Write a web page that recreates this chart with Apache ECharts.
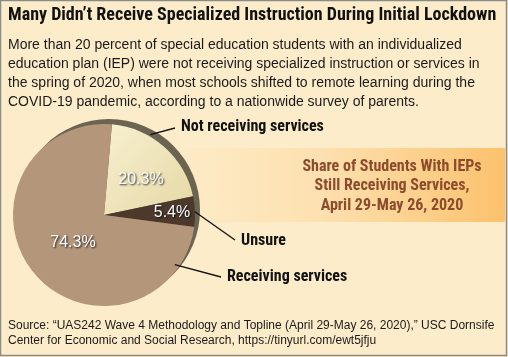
<!DOCTYPE html>
<html><head><meta charset="utf-8">
<script src="https://cdn.jsdelivr.net/npm/echarts@6/dist/echarts.min.js"></script>
<style>html,body{margin:0;padding:0;background:#fdecc9;}#c{width:508px;height:357px;}</style>
</head><body><div id="c"></div>
<script>
const categories = ['Not receiving services', 'Unsure', 'Receiving services'];
const shares = [20.3, 5.4, 74.3];
const sliceColors = ['#efe4bd', '#4c392b', '#b4967a'];
const titleText = 'Many Didn\u2019t Receive Specialized Instruction During Initial Lockdown';
const subtitleLines = [
  'More than 20 percent of special education students with an individualized',
  'education plan (IEP) were not receiving specialized instruction or services in',
  'the spring of 2020, when most schools shifted to remote learning during the',
  'COVID-19 pandemic, according to a nationwide survey of parents.'
];
const bandLines = ['Share of Students With IEPs', 'Still Receiving Services,', 'April 29-May 26, 2020'];
const sourceLines = [
  'Source: \u201cUAS242 Wave 4 Methodology and Topline (April 29-May 26, 2020),\u201d USC Dornsife',
  'Center for Economic and Social Research, https://tinyurl.com/ewt5jfju'
];

const narrow = "'Liberation Sans Narrow','Arial Narrow','Roboto Condensed',sans-serif";
const sans = "'Liberation Sans',Arial,Helvetica,sans-serif";
const chart = echarts.init(document.getElementById('c'), null, {renderer: 'canvas'});

const cx = 104, cy = 215, R = 91, startAngle = 85;
// label placement (annotation layout)
const innerPos = [[141, 180], [172, 213], [73, 243]];
const outerPos = [[181, 127], [241, 241], [227, 277]];
// leader lines: start on the pie at [angle deg, radius factor], end next to the label
const leaderStart = [[60, 1.02], [2, 1.0], [-35, 0.95]];
const leaderEnd = [[175, 128], [235, 240], [221, 277]];

function polar(a, f) {
  const rad = a * Math.PI / 180;
  return [cx + Math.cos(rad) * R * f, cy - Math.sin(rad) * R * f];
}

const data = categories.map((c, i) => ({
  name: c, value: shares[i],
  itemStyle: {color: i === 0 ? new echarts.graphic.LinearGradient(0, 0, 1, 1, [{offset: 0, color: '#f7efcf'}, {offset: 1, color: '#e6d8a5'}]) : sliceColors[i]}
}));

const graphics = [
  {type: 'rect', shape: {x: 0.5, y: 0.5, width: 506, height: 355}, style: {fill: '#fdecc9', stroke: '#8a8a8a', lineWidth: 1.5}, z: -10},
  {type: 'rect', shape: {x: 172, y: 148, width: 333, height: 74},
    style: {fill: new echarts.graphic.LinearGradient(0, 0, 1, 0, [
      {offset: 0, color: 'rgba(252,196,115,0)'},
      {offset: 0.45, color: 'rgba(252,196,115,0.3)'},
      {offset: 1, color: 'rgba(252,193,108,1)'}])}, z: -5},
  {type: 'circle', shape: {cx: cx + 5, cy: cy - 5, r: R}, style: {fill: '#6b6450'}, z: -1},
  {type: 'text', left: 8, top: 6, style: {text: titleText, font: 'bold 18px ' + narrow, fill: '#111'}},
  {type: 'text', left: 8, top: 35, style: {text: subtitleLines.join('\n'), font: '14px ' + sans, lineHeight: 19.3, fill: '#1a1a1a'}},
  {type: 'text', x: 392, y: 157, style: {text: bandLines.join('\n'), font: 'bold 16px ' + narrow, lineHeight: 19.5, fill: '#8c4b2b', align: 'center'}},
  {type: 'text', left: 8, top: 318, style: {text: sourceLines.join('\n'), font: '12px ' + sans, lineHeight: 15, fill: '#1a1a1a'}}
];
leaderStart.forEach((s, i) => {
  const p = polar(s[0], s[1]);
  graphics.push({type: 'line', z: 10, shape: {x1: p[0], y1: p[1], x2: leaderEnd[i][0], y2: leaderEnd[i][1]}, style: {stroke: '#111', lineWidth: 1.3}});
});

chart.setOption({
  backgroundColor: '#fdecc9',
  animation: false,
  graphic: graphics,
  series: [
    {
      type: 'pie', center: [cx, cy], radius: R, startAngle: startAngle, clockwise: true,
      data: data, silent: true, z: 2,
      label: {position: 'inside', formatter: p => p.value.toFixed(1) + '%', color: '#fff',
        fontSize: 16, fontFamily: sans,
        textShadowColor: 'rgba(0,0,0,0.85)', textShadowBlur: 2, textShadowOffsetX: 1, textShadowOffsetY: 1},
      labelLine: {show: false},
      labelLayout: p => ({x: innerPos[p.dataIndex][0], y: innerPos[p.dataIndex][1], align: 'center', verticalAlign: 'middle'})
    },
    {
      type: 'pie', center: [cx, cy], radius: R, startAngle: startAngle, clockwise: true,
      data: categories.map((c, i) => ({name: c, value: shares[i]})), silent: true, z: 3,
      itemStyle: {color: 'rgba(0,0,0,0)'},
      label: {position: 'outside', formatter: '{b}', color: '#111', fontWeight: 'bold', fontSize: 16, fontFamily: narrow, overflow: 'none', width: 200},
      labelLine: {show: false},
      labelLayout: p => ({x: outerPos[p.dataIndex][0], y: outerPos[p.dataIndex][1], align: 'left', verticalAlign: 'middle'})
    }
  ]
});
</script></body></html>
